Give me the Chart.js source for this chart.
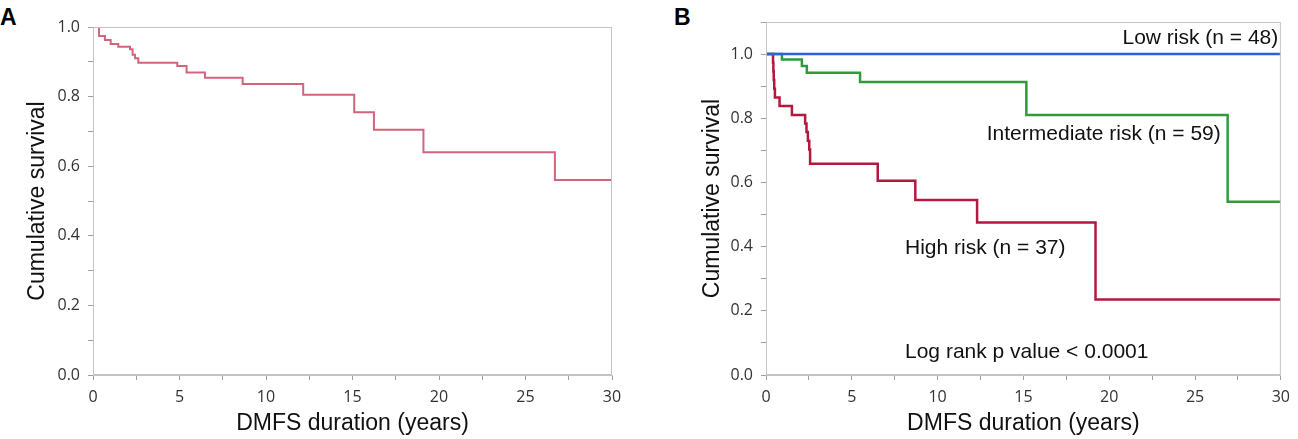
<!DOCTYPE html>
<html>
<head>
<meta charset="utf-8">
<script src="https://cdn.jsdelivr.net/npm/chart.js@4.4.1/dist/chart.umd.min.js"></script>
<style>
  html, body { margin: 0; padding: 0; background: #fff; }
  body { width: 1298px; height: 439px; position: relative; overflow: hidden; }
  .panel { position: absolute; top: 0; height: 439px; }
  .tag { position: absolute; top: 4px; font: bold 23px "Liberation Sans", Arial, sans-serif; color: #000; }
</style>
</head>
<body>
<div class="tag" style="left:0">A</div>
<div class="tag" style="left:674px">B</div>
<div class="panel" style="left:0; width:640px"><canvas id="chartA"></canvas></div>
<div class="panel" style="left:680px; width:618px"><canvas id="chartB"></canvas></div>
<script>
// panel A - all patients
const allTimes = [0, 0.35, 0.69, 1.02, 1.46, 2.14, 2.29, 2.43, 2.62, 4.87, 5.41, 6.47, 8.65, 12.15, 15.1, 16.24, 19.1, 26.7, 30]
const allSurv = [1, 0.974, 0.963, 0.951, 0.943, 0.936, 0.92, 0.91, 0.897, 0.888, 0.869, 0.854, 0.836, 0.805, 0.755, 0.705, 0.64, 0.56, 0.56]

// panel B - risk groups
const lowTimes = [0, 30]
const lowSurv = [1, 1]
const midTimes = [0, 0.93, 2.09, 2.38, 5.48, 15.17, 26.9, 30]
const midSurv = [1, 0.983, 0.963, 0.942, 0.913, 0.81, 0.54, 0.54]
const highTimes = [0, 0.41, 0.43, 0.45, 0.48, 0.52, 0.79, 1.51, 2.28, 2.36, 2.44, 2.52, 2.57, 6.51, 8.7, 12.3, 19.2, 30]
const highSurv = [1, 0.973, 0.946, 0.919, 0.892, 0.865, 0.838, 0.81, 0.784, 0.757, 0.73, 0.703, 0.658, 0.605, 0.545, 0.475, 0.235, 0.235]

const xTicks = [0, 5, 10, 15, 20, 25, 30]
const yTicks = [0, 0.2, 0.4, 0.6, 0.8, 1.0]

// text notes on panel B, anchored in data units
const noteTexts = ['Low risk (n = 48)', 'Intermediate risk (n = 59)', 'High risk (n = 37)', 'Log rank p value < 0.0001']
const noteX = [29.85, 26.5, 8.1, 8.1]
const noteY = [1.048, 0.749, 0.396, 0.07]
const noteAlign = ['right', 'right', 'left', 'left']

const toPoints = (t, s) => t.map((v, i) => ({ x: v, y: s[i] }))

const tickFont = { family: '"Open Sans", sans-serif', size: 16 }
const titleFont = { family: '"Liberation Sans", Arial, sans-serif', size: 23 }

const frame = {
  id: 'frame',
  afterDraw(chart) {
    const { ctx, chartArea } = chart
    ctx.save()
    ctx.strokeStyle = '#c4c4c4'
    ctx.lineWidth = 1
    ctx.strokeRect(chartArea.left + 0.5, chartArea.top + 0.5, chartArea.width - 1, chartArea.height - 1)
    ctx.restore()
  },
}

const notes = {
  id: 'notes',
  afterDatasetsDraw(chart) {
    if (!chart.options.plugins.notes.show) return
    const { ctx, scales } = chart
    ctx.save()
    ctx.font = '21px "Liberation Sans", Arial, sans-serif'
    ctx.fillStyle = '#111'
    ctx.textBaseline = 'middle'
    noteTexts.forEach((txt, i) => {
      ctx.textAlign = noteAlign[i]
      ctx.fillText(txt, scales.x.getPixelForValue(noteX[i]), scales.y.getPixelForValue(noteY[i]))
    })
    ctx.restore()
  },
}

function makeScales(yMax, yWidth, titlePad) {
  return {
    x: {
      type: 'linear',
      min: 0,
      max: 30,
      afterBuildTicks: (s) => { s.ticks = [0, 2.5, 5, 7.5, 10, 12.5, 15, 17.5, 20, 22.5, 25, 27.5, 30].map((v) => ({ value: v })) },
      afterFit: (s) => { s.height = 64 },
      ticks: {
        font: tickFont,
        color: '#333',
        padding: 8,
        maxRotation: 0,
        autoSkip: false,
        callback: (v) => (xTicks.includes(v) ? String(v) : ''),
      },
      grid: { drawOnChartArea: false, drawTicks: true, tickLength: 5, color: '#a0a0a0' },
      border: { color: '#c4c4c4' },
      title: { display: true, text: 'DMFS duration (years)', font: titleFont, color: '#111', padding: { top: 0, bottom: 2 } },
    },
    y: {
      min: 0,
      max: yMax,
      afterBuildTicks: (s) => {
        const out = []
        for (let k = 0; k <= Math.round(yMax * 10); k++) out.push({ value: k / 10 })
        s.ticks = out
      },
      afterFit: (s) => { s.width = yWidth },
      ticks: {
        font: tickFont,
        color: '#333',
        padding: 8,
        autoSkip: false,
        callback: (v) => {
          const hit = yTicks.find((t) => Math.abs(t - v) < 1e-6)
          return hit === undefined ? '' : hit.toFixed(1)
        },
      },
      grid: { drawOnChartArea: false, drawTicks: true, tickLength: 5, color: '#a0a0a0' },
      border: { color: '#c4c4c4' },
      title: { display: true, text: 'Cumulative survival', font: titleFont, color: '#111', padding: { top: titlePad, bottom: 0 } },
    },
  }
}

Chart.defaults.animation = false

new Chart(document.getElementById('chartA'), {
  type: 'line',
  data: {
    datasets: [
      { data: toPoints(allTimes, allSurv), stepped: true, borderColor: '#d3647d', borderWidth: 2, pointRadius: 0 },
    ],
  },
  options: {
    responsive: true,
    maintainAspectRatio: false,
    layout: { padding: { left: 0, right: 28, top: 27, bottom: 0 } },
    plugins: { legend: { display: false }, tooltip: { enabled: false }, notes: { show: false } },
    scales: makeScales(1.0, 93, 24),
  },
  plugins: [frame, notes],
})

new Chart(document.getElementById('chartB'), {
  type: 'line',
  data: {
    datasets: [
      { data: toPoints(lowTimes, lowSurv), stepped: true, borderColor: '#2c63d6', borderWidth: 2.5, pointRadius: 0 },
      { data: toPoints(midTimes, midSurv), stepped: true, borderColor: '#329a3c', borderWidth: 2.5, pointRadius: 0 },
      { data: toPoints(highTimes, highSurv), stepped: true, borderColor: '#b3193f', borderWidth: 2.5, pointRadius: 0 },
    ],
  },
  options: {
    responsive: true,
    maintainAspectRatio: false,
    layout: { padding: { left: 0, right: 16, top: 22, bottom: 0 } },
    plugins: { legend: { display: false }, tooltip: { enabled: false }, notes: { show: true } },
    scales: makeScales(1.1, 86, 19),
  },
  plugins: [frame, notes],
})
</script>
</body>
</html>
